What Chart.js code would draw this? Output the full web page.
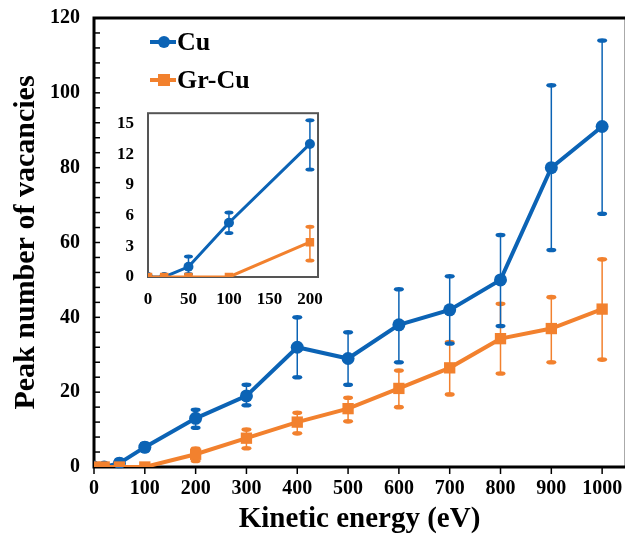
<!DOCTYPE html>
<html>
<head>
<meta charset="utf-8">
<script src="https://cdn.jsdelivr.net/npm/chart.js@4"></script>
<style>
  body { margin: 0; background: #fff; }
  #wrap { position: relative; width: 633px; height: 543px; }
  #main { position: absolute; left: 0; top: 0; }
  #inset { position: absolute; left: 110px; top: 97px; }
</style>
</head>
<body>
<div id="wrap">
  <canvas id="main" width="633" height="543"></canvas>
  <canvas id="inset" width="217" height="213"></canvas>
</div>
<script>
const energy = [0, 20, 50, 100, 200, 300, 400, 500, 600, 700, 800, 900, 1000];
const cuPeak = [0, 0, 1, 5.3, 13, 19, 32, 29, 38, 42, 50, 80, 91];
const cuHigh = [0, 0, 2, 6.3, 15.3, 22, 40, 36, 47.5, 51, 62, 102, 114];
const cuLow  = [0, 0, 0.3, 4.3, 10.5, 16.5, 24, 22, 28, 33, 37.7, 58, 67.7];
const grPeak = [0, 0, 0, 0, 3.4, 7.7, 12, 15.6, 21, 26.5, 34.3, 37, 42.2];
const grHigh = [0, 0, 0, 0, 4.9, 10, 14.5, 18.5, 25.8, 33.4, 43.6, 45.4, 55.5];
const grLow  = [0, 0, 0, 0, 1.6, 5, 9, 12.2, 16, 19.4, 25, 28, 28.7];
const seriesNames = ['Cu', 'Gr-Cu'];
const xTicksMain = [0, 100, 200, 300, 400, 500, 600, 700, 800, 900, 1000];
const yTicksMain = [0, 20, 40, 60, 80, 100, 120];
const xTicksInset = [0, 50, 100, 150, 200];
const yTicksInset = [0, 3, 6, 9, 12, 15];

const BLUE = '#0B63B5';
const ORANGE = '#F2812E';
const FONT = '"Liberation Serif", "Times New Roman", serif';

function pts(ys, maxX) {
  return energy.map((x, i) => ({x, y: ys[i]})).filter(p => p.x <= maxX);
}

// error bars with little oval caps
const errorBars = {
  id: 'errorBars',
  beforeDatasetsDraw(chart, args, opts) {
    const ctx = chart.ctx, xs = chart.scales.x, ys = chart.scales.y;
    ctx.save();
    chart.data.datasets.forEach(ds => {
      if (!ds.errHigh) return;
      ctx.strokeStyle = ds.borderColor;
      ctx.fillStyle = ds.borderColor;
      ctx.lineWidth = opts.width || 1.5;
      ds.data.forEach((p, i) => {
        const hi = ds.errHigh[i], lo = ds.errLow[i];
        if (hi === lo) return;
        const px = xs.getPixelForValue(p.x);
        const y1 = ys.getPixelForValue(hi), y2 = ys.getPixelForValue(lo);
        ctx.beginPath(); ctx.moveTo(px, y1); ctx.lineTo(px, y2); ctx.stroke();
        [y1, y2].forEach(yy => {
          ctx.beginPath();
          ctx.ellipse(px, yy, opts.capW || 5, opts.capH || 2.2, 0, 0, Math.PI * 2);
          ctx.fill();
        });
      });
    });
    ctx.restore();
  }
};

// frame + tick marks
const frame = {
  id: 'frame',
  beforeDatasetsDraw(chart, args, opts) {
    const {ctx, chartArea: a} = chart;
    const ys = chart.scales.y, xs = chart.scales.x;
    ctx.save();
    if (opts.fill) { ctx.fillStyle = '#fff'; ctx.fillRect(a.left, a.top, a.right - a.left, a.bottom - a.top); }
    if (opts.inset) {
      ctx.strokeStyle = '#555'; ctx.lineWidth = 2;
      ctx.strokeRect(a.left, a.top, a.right - a.left, a.bottom - a.top);
    } else {
      ctx.strokeStyle = '#aaa'; ctx.lineWidth = 1;
      ctx.beginPath(); ctx.moveTo(a.right - 0.5, a.top); ctx.lineTo(a.right - 0.5, a.bottom); ctx.stroke();
      ctx.strokeStyle = '#000'; ctx.lineWidth = 3;
      ctx.beginPath();
      ctx.moveTo(a.right, a.top); ctx.lineTo(a.left, a.top);
      ctx.lineTo(a.left, a.bottom); ctx.lineTo(a.right, a.bottom);
      ctx.stroke();
      ctx.lineWidth = 1.5;
      for (let v = 0; v <= 120; v += 4) {
        const y = ys.getPixelForValue(v);
        ctx.beginPath(); ctx.moveTo(a.left, y); ctx.lineTo(a.left + 6, y); ctx.stroke();
      }
      xTicksMain.forEach(v => {
        const x = xs.getPixelForValue(v);
        ctx.beginPath(); ctx.moveTo(x, a.bottom); ctx.lineTo(x, a.bottom + 7); ctx.stroke();
      });
    }
    ctx.restore();
  }
};

const legendBox = {
  id: 'legendBox',
  afterDatasetsDraw(chart) {
    const ctx = chart.ctx;
    ctx.save();
    ctx.font = 'bold 26px ' + FONT;
    ctx.textBaseline = 'middle';
    const rows = [{y: 42, color: BLUE, shape: 'circle'}, {y: 80, color: ORANGE, shape: 'square'}];
    rows.forEach((r, i) => {
      ctx.strokeStyle = r.color; ctx.fillStyle = r.color; ctx.lineWidth = 4;
      ctx.beginPath(); ctx.moveTo(150, r.y); ctx.lineTo(176, r.y); ctx.stroke();
      if (r.shape === 'circle') { ctx.beginPath(); ctx.arc(164, r.y, 6, 0, Math.PI * 2); ctx.fill(); }
      else ctx.fillRect(158, r.y - 6, 12, 12);
      ctx.fillStyle = '#000';
      ctx.fillText(seriesNames[i], 177, r.y + 1);
    });
    ctx.restore();
  }
};

function datasets(maxX, big) {
  return [
    {label: 'Gr-Cu', data: pts(grPeak, maxX), errHigh: grHigh, errLow: grLow,
     borderColor: ORANGE, backgroundColor: ORANGE, borderWidth: big ? 4 : 3,
     pointStyle: 'rect', pointRadius: big ? 8 : 6, pointBorderWidth: 0},
    {label: 'Cu', data: pts(cuPeak, maxX), errHigh: cuHigh, errLow: cuLow,
     borderColor: BLUE, backgroundColor: BLUE, borderWidth: big ? 4 : 3,
     pointStyle: 'circle', pointRadius: big ? 6.5 : 5, pointBorderWidth: 0}
  ];
}

const tickFont = size => ({family: FONT, size, weight: 'bold'});
const plain = v => String(v);

new Chart(document.getElementById('main'), {
  type: 'line',
  data: {datasets: datasets(1000, true)},
  plugins: [frame, errorBars, legendBox],
  options: {
    responsive: false, animation: false,
    layout: {padding: {top: 15, right: 1, left: 0, bottom: 0}},
    plugins: {legend: {display: false}, tooltip: {enabled: false},
              errorBars: {width: 1.5, capW: 5, capH: 2.3}},
    scales: {
      x: {type: 'linear', min: 0, max: 1045,
          afterBuildTicks: s => { s.ticks = xTicksMain.map(v => ({value: v})); },
          ticks: {color: '#000', font: tickFont(20), maxRotation: 0, autoSkip: false, padding: 2, callback: plain},
          grid: {display: false}, border: {display: false},
          title: {display: true, text: 'Kinetic energy (eV)', color: '#000', font: tickFont(29), padding: {top: 0, bottom: 6}},
          afterFit: s => { s.height = 76; }},
      y: {min: 0, max: 120,
          afterBuildTicks: s => { s.ticks = yTicksMain.map(v => ({value: v})); },
          ticks: {color: '#000', font: tickFont(20), padding: 6, callback: plain},
          grid: {display: false}, border: {display: false},
          title: {display: true, text: 'Peak number of vacancies', color: '#000', font: tickFont(30), padding: {top: 8, bottom: 0}},
          afterFit: s => { s.width = 94; }}
    }
  }
});

new Chart(document.getElementById('inset'), {
  type: 'line',
  data: {datasets: datasets(200, false)},
  plugins: [frame, errorBars],
  options: {
    responsive: false, animation: false,
    layout: {padding: {top: 8, right: 7, left: 0, bottom: 0}},
    plugins: {legend: {display: false}, tooltip: {enabled: false},
              frame: {inset: true, fill: true},
              errorBars: {width: 1.5, capW: 4.5, capH: 2}},
    scales: {
      x: {type: 'linear', min: 0, max: 210,
          afterBuildTicks: s => { s.ticks = xTicksInset.map(v => ({value: v})); },
          ticks: {color: '#000', font: tickFont(17), maxRotation: 0, autoSkip: false, padding: 4, callback: plain},
          grid: {display: false}, border: {display: false},
          afterFit: s => { s.height = 33; }},
      y: {min: 0, max: 16,
          afterBuildTicks: s => { s.ticks = yTicksInset.map(v => ({value: v})); },
          ticks: {color: '#000', font: tickFont(17), padding: 6, callback: plain},
          grid: {display: false}, border: {display: false},
          afterFit: s => { s.width = 38; }}
    }
  }
});
</script>
</body>
</html>
